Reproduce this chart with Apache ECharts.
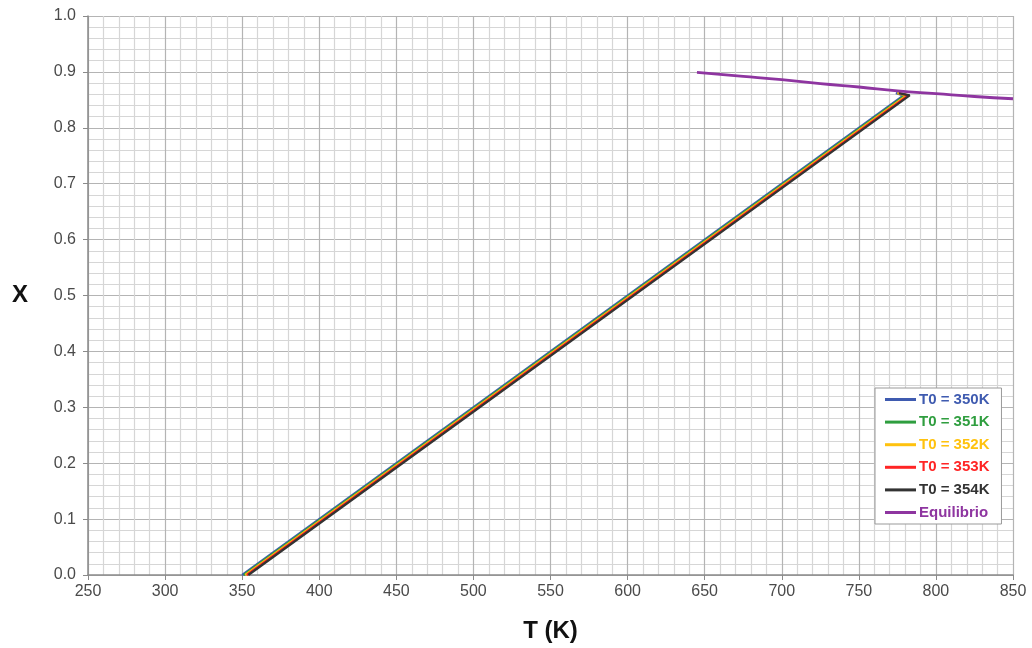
<!DOCTYPE html>
<html>
<head>
<meta charset="utf-8">
<script src="https://cdn.jsdelivr.net/npm/echarts@6/dist/echarts.min.js"></script>
<style>
html,body{margin:0;padding:0;background:#fff;}
#chart{width:1032px;height:648px;}
</style>
</head>
<body>
<div id="chart"></div>
<script>
// Data
const seriesNames = ['T0 = 350K', 'T0 = 351K', 'T0 = 352K', 'T0 = 353K', 'T0 = 354K', 'Equilibrio'];
const adiabaticX = [0, 0.858, 0.862];
const t350 = [350, 779, 774];
const t351 = [351, 780, 775];
const t352 = [352, 781, 775];
const t353 = [353, 782, 776];
const t354 = [354, 783, 776];
const eqT = [645, 675, 700, 725, 750, 775, 800, 825, 850];
const eqX = [0.899, 0.892, 0.886, 0.879, 0.873, 0.866, 0.861, 0.856, 0.852];

const colors = ['#3f5bb0', '#2f9e3f', '#ffc20e', '#ff2525', '#333333', '#8e35a0'];
const FONT = 'Liberation Sans, Arial, sans-serif';

function pairs(xs, ys) { return xs.map((x, i) => [x, ys[i]]); }
const lineT = [t350, t351, t352, t353, t354];

const series = lineT.map((ts, i) => ({
  name: seriesNames[i],
  type: 'line',
  data: pairs(ts, adiabaticX),
  showSymbol: false,
  symbol: 'none',
  lineStyle: { color: colors[i], width: 2.2 },
  itemStyle: { color: colors[i] },
  animation: false
}));
series.push({
  name: seriesNames[5],
  type: 'line',
  data: pairs(eqT, eqX),
  smooth: true,
  showSymbol: false,
  symbol: 'none',
  lineStyle: { color: colors[5], width: 2.8 },
  itemStyle: { color: colors[5] },
  animation: false
});

const chart = echarts.init(document.getElementById('chart'));
chart.setOption({
  animation: false,
  backgroundColor: '#ffffff',
  grid: { left: 88, right: 19, top: 16, bottom: 73, containLabel: false },
  xAxis: {
    type: 'value', min: 250, max: 850, interval: 50,
    name: 'T (K)', nameLocation: 'middle', nameGap: 44,
    nameTextStyle: { fontFamily: FONT, fontSize: 24, fontWeight: 'bold', color: '#111' },
    axisLine: { show: true, lineStyle: { color: '#8a8a8a', width: 1.5 } },
    axisTick: { show: true, inside: false, length: 5, lineStyle: { color: '#8a8a8a' } },
    axisLabel: { fontFamily: FONT, fontSize: 16, color: '#4a4a4a', margin: 9 },
    splitLine: { show: true, lineStyle: { color: '#b4b4b4', width: 1.2 } },
    minorTick: { show: false, splitNumber: 5 },
    minorSplitLine: { show: true, lineStyle: { color: '#d6d6d6', width: 1.2 } }
  },
  yAxis: {
    type: 'value', min: 0, max: 1, interval: 0.1,
    name: 'X', nameLocation: 'middle', nameGap: 60, nameRotate: 0,
    nameTextStyle: { fontFamily: FONT, fontSize: 24, fontWeight: 'bold', color: '#111' },
    axisLine: { show: true, lineStyle: { color: '#8a8a8a', width: 1.5 } },
    axisTick: { show: true, inside: false, length: 5, lineStyle: { color: '#8a8a8a' } },
    axisLabel: { fontFamily: FONT, fontSize: 16, color: '#4a4a4a', margin: 12,
      formatter: v => v.toFixed(1) },
    splitLine: { show: true, lineStyle: { color: '#b4b4b4', width: 1.2 } },
    minorTick: { show: false, splitNumber: 5 },
    minorSplitLine: { show: true, lineStyle: { color: '#d6d6d6', width: 1.2 } }
  },
  legend: {
    orient: 'vertical',
    left: 875, top: 388,
    padding: [4, 12, 4, 10],
    backgroundColor: '#ffffff',
    borderColor: '#999999',
    borderWidth: 1,
    icon: 'rect',
    itemWidth: 31,
    itemHeight: 3,
    itemGap: 7.6,
    textStyle: { fontFamily: FONT, fontSize: 15, fontWeight: 'bold', padding: [0, 0, 0, -2] },
    data: seriesNames.map((n, i) => ({ name: n, textStyle: { color: colors[i] } }))
  },
  series: series
});
</script>
</body>
</html>
